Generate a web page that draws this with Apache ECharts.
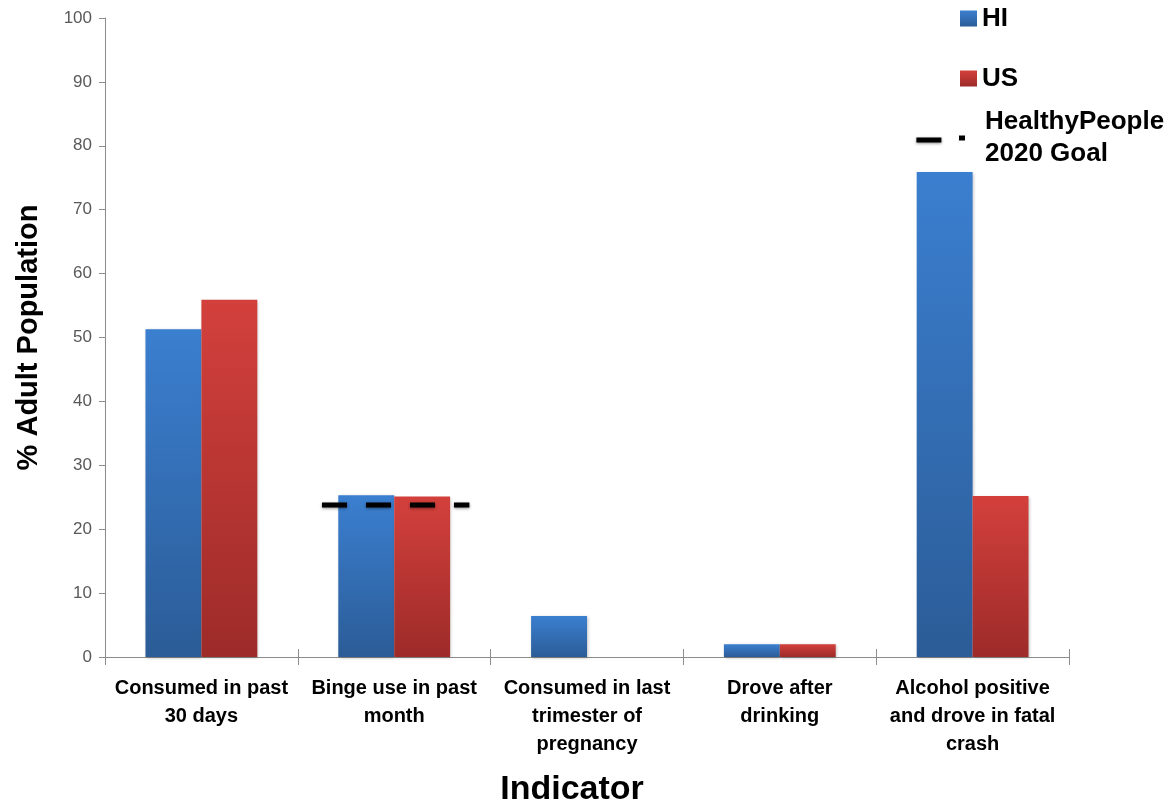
<!DOCTYPE html>
<html>
<head>
<meta charset="utf-8">
<script src="https://cdn.jsdelivr.net/npm/echarts@6/dist/echarts.min.js"></script>
<style>
html,body{margin:0;padding:0;background:#fff;}
#chart{width:1176px;height:805px;}
</style>
</head>
<body>
<div id="chart"></div>
<script>
const categories = ['Consumed in past\n30 days', 'Binge use in past\nmonth', 'Consumed in last\ntrimester of\npregnancy', 'Drove after\ndrinking', 'Alcohol positive\nand drove in fatal\ncrash'];
const hiValues = [51.3, 25.3, 6.4, 2.0, 75.9];
const usValues = [55.9, 25.1, null, 2.0, 25.2];
const goalValues = [null, 23.8, null, null, 80.9];
const yTicks = [0, 10, 20, 30, 40, 50, 60, 70, 80, 90, 100];

const FONT = 'Liberation Sans';
const goalDashOffset = {1: 41, 4: 25};

const chart = echarts.init(document.getElementById('chart'));

const goalData = [];
goalValues.forEach((v, i) => { if (v != null) goalData.push([i, v]); });

const option = {
  animation: false,
  backgroundColor: '#fff',
  grid: {left: 105, right: 107, top: 18, bottom: 148, containLabel: false, outerBoundsMode: 'none'},
  legend: [
    {
      data: [{name: 'HI', icon: 'rect'}, {name: 'US', icon: 'rect'}],
      orient: 'vertical', left: 960, top: 5, padding: 0,
      itemWidth: 17, itemHeight: 16, itemGap: 33,
      textStyle: {fontFamily: FONT, fontSize: 26, fontWeight: 'bold', color: '#000', lineHeight: 27},
      selectedMode: false
    },
    {
      data: [{name: 'HealthyPeople\n2020 Goal', icon: 'rect', itemStyle: {color: '#000'}}],
      orient: 'vertical', left: 959, top: 106, padding: 0,
      itemWidth: 6, itemHeight: 5,
      backgroundColor: '#fff',
      textStyle: {fontFamily: FONT, fontSize: 26, fontWeight: 'bold', color: '#000', lineHeight: 32, padding: [0, 0, 0, 15]},
      selectedMode: false
    }
  ],
  xAxis: [{
    type: 'category',
    data: categories,
    name: 'Indicator',
    nameLocation: 'middle',
    nameGap: 116,
    nameMoveOverlap: false,
    nameTextStyle: {fontFamily: FONT, fontSize: 34, fontWeight: 'bold', color: '#000', padding: [0, 30, 0, 0]},
    axisLine: {lineStyle: {color: '#8c8c8c', width: 1}},
    axisTick: {show: true, alignWithLabel: false, length: 8, lineStyle: {color: '#8c8c8c'}},
    axisLabel: {fontFamily: FONT, fontSize: 20, fontWeight: 'bold', color: '#000', lineHeight: 28, margin: 17, interval: 0},
    splitLine: {show: false}
  }, {
    type: 'category',
    data: categories,
    position: 'bottom',
    axisLine: {show: false},
    axisTick: {show: true, inside: true, alignWithLabel: false, length: 8, lineStyle: {color: '#8c8c8c'}},
    axisLabel: {show: false},
    splitLine: {show: false}
  }],
  yAxis: {
    type: 'value',
    min: 0, max: 100, interval: 10,
    name: '% Adult Population',
    nameLocation: 'middle',
    nameGap: 62,
    nameMoveOverlap: false,
    nameRotate: 90,
    nameTextStyle: {fontFamily: FONT, fontSize: 29, fontWeight: 'bold', color: '#000'},
    axisLine: {show: true, lineStyle: {color: '#8c8c8c'}},
    axisTick: {show: true, length: 6, lineStyle: {color: '#8c8c8c'}},
    axisLabel: {fontFamily: FONT, fontSize: 17, color: '#595959', margin: 13,
      formatter: v => yTicks.includes(v) ? String(v) : ''},
    splitLine: {show: false}
  },
  series: [
    {
      name: 'HI', type: 'bar', data: hiValues,
      barGap: '0%', barCategoryGap: '42%',
      itemStyle: {
        color: new echarts.graphic.LinearGradient(0, 0, 0, 1, [
          {offset: 0, color: '#3b7fd0'}, {offset: 1, color: '#2b5c97'}]),
        shadowBlur: 3, shadowColor: 'rgba(0,0,0,0.25)', shadowOffsetX: 1, shadowOffsetY: 1
      }
    },
    {
      name: 'US', type: 'bar', data: usValues,
      itemStyle: {
        color: new echarts.graphic.LinearGradient(0, 0, 0, 1, [
          {offset: 0, color: '#d3403c'}, {offset: 1, color: '#9d2b29'}]),
        shadowBlur: 3, shadowColor: 'rgba(0,0,0,0.25)', shadowOffsetX: 1, shadowOffsetY: 1
      }
    },
    {
      name: 'HealthyPeople\n2020 Goal', type: 'custom',
      data: goalData,
      z: 3,
      itemStyle: {color: '#000'},
      renderItem: function (params, api) {
        const idx = api.value(0);
        const c = api.coord([idx, api.value(1)]);
        const bw = api.size([1, 0])[0];
        const half = bw * 0.39;
        return {
          type: 'line',
          shape: {x1: c[0] - half, y1: c[1], x2: c[0] + half, y2: c[1]},
          style: {stroke: '#000', lineWidth: 5, lineDash: [25, 19],
            lineDashOffset: goalDashOffset[idx] || 0,
            shadowBlur: 3, shadowColor: 'rgba(0,0,0,0.45)', shadowOffsetY: 1}
        };
      }
    }
  ]
};
chart.setOption(option);
</script>
</body>
</html>
